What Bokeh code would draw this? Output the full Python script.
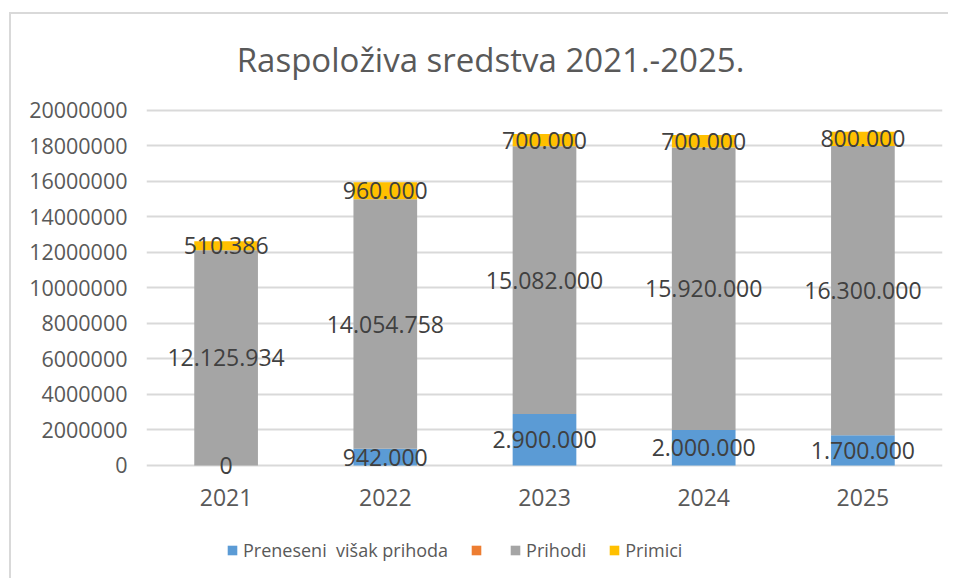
from bokeh.plotting import figure
from bokeh.models import (ColumnDataSource, FactorRange, FixedTicker, NumeralTickFormatter,
                          LabelSet, Label, Legend, LegendItem, Range1d)
from bokeh.core.properties import value
from bokeh.embed import file_html
from bokeh.resources import INLINE

title = "Raspoloživa sredstva 2021.-2025."
years = ["2021", "2022", "2023", "2024", "2025"]
preneseni = [0, 942000, 2900000, 2000000, 1700000]
prazno = [0, 0, 0, 0, 0]
prihodi = [12125934, 14054758, 15082000, 15920000, 16300000]
primici = [510386, 960000, 700000, 700000, 800000]
y_ticks = [0, 2000000, 4000000, 6000000, 8000000, 10000000, 12000000,
           14000000, 16000000, 18000000, 20000000]

FONT = "Open Sans"
TXT = "#595959"

p = figure(x_range=FactorRange(*years, range_padding=0),
           y_range=Range1d(-6479000, 25408000),
           width=939, height=566, output_backend="svg", toolbar_location=None,
           min_border_left=135, min_border_right=8, min_border_top=0, min_border_bottom=0,
           margin=(12, 0, 0, 9))
p.styles = {"border-top": "2px solid #D9D9D9", "border-left": "2px solid #D9D9D9"}

src = ColumnDataSource(dict(years=years, preneseni=preneseni, prazno=prazno,
                            prihodi=prihodi, primici=primici))
names = ["preneseni", "prazno", "prihodi", "primici"]
colors = ["#5B9BD5", "#ED7D31", "#A5A5A5", "#FFC000"]
rs = p.vbar_stack(names, x="years", width=0.4, color=colors, line_color=None, source=src)

# data labels at the middle of each segment
lx, ly, lt = [], [], []
for i, yr in enumerate(years):
    base = 0
    for arr in (preneseni, prihodi, primici):
        v = arr[i]
        lx.append(yr)
        ly.append(base + v / 2)
        lt.append(f"{v:,}".replace(",", "."))
        base += v
lsrc = ColumnDataSource(dict(x=lx, y=ly, t=lt))
p.add_layout(LabelSet(x="x", y="y", text="t", source=lsrc, text_align="center",
                      text_baseline="middle", text_font=value(FONT), text_font_size=value("23px"),
                      text_color=value("#404040")))

# category labels under the bars
ysrc = ColumnDataSource(dict(x=years, y=[-1803000] * len(years), t=years))
p.add_layout(LabelSet(x="x", y="y", text="t", source=ysrc, text_align="center",
                      text_baseline="middle", text_font=value(FONT), text_font_size=value("23px"),
                      text_color=value(TXT)))

# chart title
p.add_layout(Label(x=2.161, y=22870000, text=title, text_align="center",
                   text_baseline="middle", text_font=FONT, text_font_size="33px",
                   text_color=TXT))

p.xaxis.visible = False
p.yaxis.ticker = FixedTicker(ticks=y_ticks)
p.yaxis.formatter = NumeralTickFormatter(format="0")
p.yaxis.axis_line_color = None
p.yaxis.major_tick_line_color = None
p.yaxis.minor_tick_line_color = None
p.yaxis.major_label_text_font = FONT
p.yaxis.major_label_text_font_size = "21.5px"
p.yaxis.major_label_text_color = TXT
p.yaxis.major_label_standoff = 13

p.xgrid.grid_line_color = None
p.ygrid.grid_line_color = "#D9D9D9"
p.ygrid.grid_line_width = 2
p.outline_line_color = None

items = [LegendItem(label="Preneseni  višak prihoda", renderers=[rs[0]]),
         LegendItem(label=" ", renderers=[rs[1]]),
         LegendItem(label="Prihodi", renderers=[rs[2]]),
         LegendItem(label="Primici", renderers=[rs[3]])]
legend = Legend(items=items, orientation="horizontal", location=(80, 18),
                glyph_width=12, glyph_height=12, label_standoff=5, spacing=22,
                padding=0, margin=0, border_line_color=None, background_fill_alpha=0,
                label_text_font=FONT, label_text_font_size="18px", label_text_color=TXT,
                label_height=20, label_width=0)
p.add_layout(legend)

open("out.html", "w").write(file_html(p, INLINE))
